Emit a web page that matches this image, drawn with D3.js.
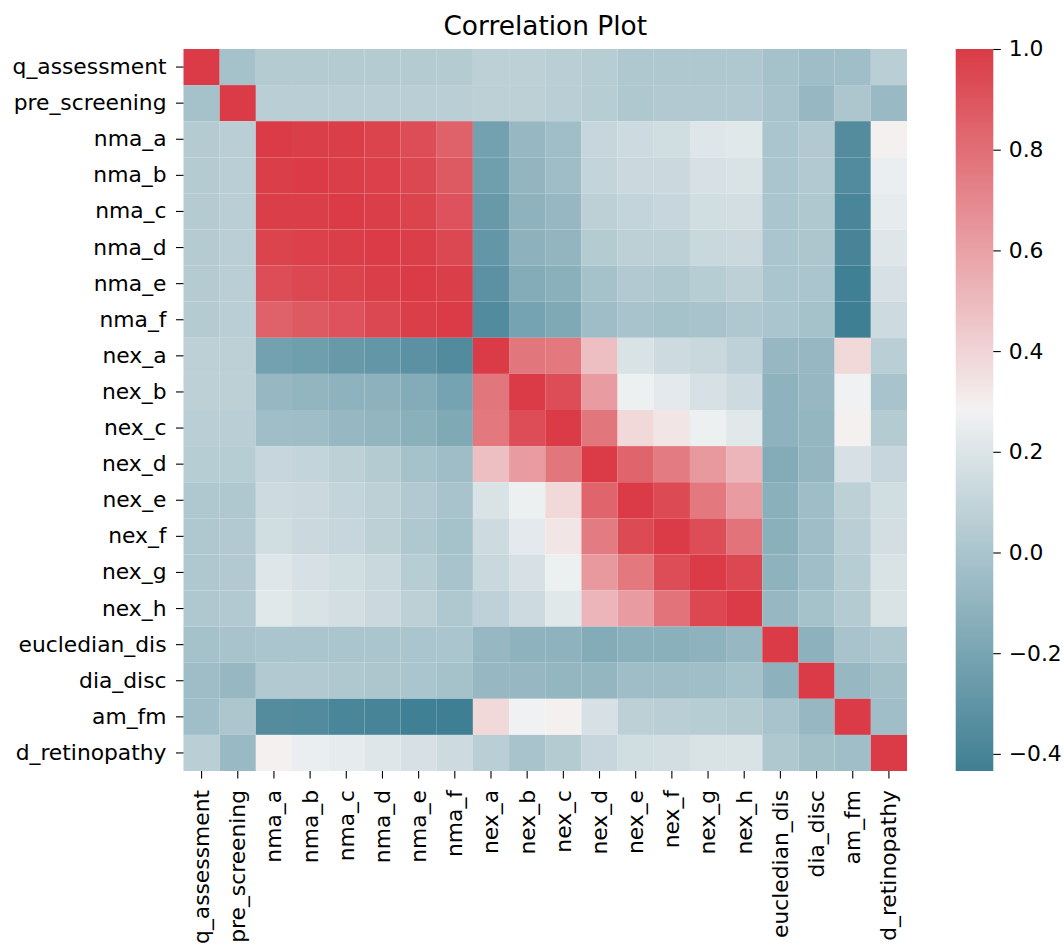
<!DOCTYPE html>
<html>
<head>
<meta charset="utf-8">
<script src="https://cdn.jsdelivr.net/npm/d3@7"></script>
<style>
  html, body { margin: 0; padding: 0; background: #ffffff; }
  svg { display: block; }
  text { font-family: "DejaVu Sans", sans-serif; fill: #000; }
</style>
</head>
<body>
<svg id="chart" width="1064" height="948"></svg>
<script>
// ---- data ----
const variables = [
  "q_assessment", "pre_screening", "nma_a", "nma_b", "nma_c", "nma_d", "nma_e", "nma_f",
  "nex_a", "nex_b", "nex_c", "nex_d", "nex_e", "nex_f", "nex_g", "nex_h",
  "eucledian_dis", "dia_disc", "am_fm", "d_retinopathy"
];

const correlations = [
  [1, -0.02, 0.04, 0.04, 0.04, 0.04, 0.04, 0.04, 0.07, 0.07, 0.06, 0.05, 0.02, 0.02, 0.02, 0.02, -0.02, -0.05, -0.04, 0.06],
  [-0.02, 1, 0.06, 0.06, 0.06, 0.06, 0.06, 0.06, 0.07, 0.07, 0.06, 0.05, 0.02, 0.03, 0.03, 0.03, -0.01, -0.08, 0.01, -0.07],
  [0.04, 0.06, 1, 0.99, 0.99, 0.97, 0.93, 0.85, -0.22, -0.08, -0.04, 0.11, 0.14, 0.15, 0.21, 0.22, 0.00, 0.03, -0.35, 0.29],
  [0.04, 0.06, 0.99, 1, 0.99, 0.98, 0.95, 0.88, -0.24, -0.10, -0.05, 0.10, 0.13, 0.13, 0.18, 0.19, 0.00, 0.03, -0.36, 0.26],
  [0.04, 0.06, 0.99, 0.99, 1, 0.99, 0.97, 0.91, -0.27, -0.11, -0.08, 0.07, 0.10, 0.11, 0.15, 0.16, 0.00, 0.02, -0.39, 0.24],
  [0.04, 0.06, 0.97, 0.98, 0.99, 1, 0.99, 0.95, -0.29, -0.12, -0.10, 0.04, 0.07, 0.07, 0.12, 0.13, 0.00, 0.01, -0.40, 0.21],
  [0.04, 0.06, 0.93, 0.95, 0.97, 0.99, 1, 0.99, -0.32, -0.16, -0.13, -0.02, 0.03, 0.02, 0.05, 0.07, 0.00, 0.00, -0.43, 0.18],
  [0.04, 0.06, 0.85, 0.88, 0.91, 0.95, 0.99, 1, -0.36, -0.21, -0.17, -0.05, -0.01, -0.02, -0.01, 0.02, 0.00, -0.02, -0.434, 0.14],
  [0.07, 0.07, -0.22, -0.24, -0.27, -0.29, -0.32, -0.36, 1, 0.77, 0.76, 0.48, 0.19, 0.14, 0.12, 0.08, -0.08, -0.08, 0.38, 0.06],
  [0.07, 0.07, -0.08, -0.10, -0.11, -0.12, -0.16, -0.21, 0.77, 1, 0.93, 0.62, 0.27, 0.23, 0.18, 0.14, -0.11, -0.08, 0.28, -0.01],
  [0.06, 0.06, -0.04, -0.05, -0.08, -0.10, -0.13, -0.17, 0.76, 0.93, 1, 0.77, 0.38, 0.33, 0.27, 0.22, -0.11, -0.09, 0.29, 0.04],
  [0.05, 0.05, 0.11, 0.10, 0.07, 0.04, -0.02, -0.05, 0.48, 0.62, 0.77, 1, 0.84, 0.75, 0.63, 0.52, -0.16, -0.09, 0.18, 0.11],
  [0.02, 0.02, 0.14, 0.13, 0.10, 0.07, 0.03, -0.01, 0.19, 0.27, 0.38, 0.84, 1, 0.94, 0.76, 0.62, -0.13, -0.05, 0.07, 0.15],
  [0.02, 0.03, 0.15, 0.13, 0.11, 0.07, 0.02, -0.02, 0.14, 0.23, 0.33, 0.75, 0.94, 1, 0.93, 0.78, -0.13, -0.05, 0.06, 0.16],
  [0.02, 0.03, 0.21, 0.18, 0.15, 0.12, 0.05, -0.01, 0.12, 0.18, 0.27, 0.63, 0.76, 0.93, 1, 0.95, -0.11, -0.04, 0.05, 0.19],
  [0.02, 0.03, 0.22, 0.19, 0.16, 0.13, 0.07, 0.02, 0.08, 0.14, 0.22, 0.52, 0.62, 0.78, 0.95, 1, -0.08, -0.02, 0.04, 0.19],
  [-0.02, -0.01, 0.00, 0.00, 0.00, 0.00, 0.00, 0.00, -0.08, -0.11, -0.11, -0.16, -0.13, -0.13, -0.11, -0.08, 1, -0.12, -0.01, 0.02],
  [-0.05, -0.08, 0.03, 0.03, 0.02, 0.01, 0.00, -0.02, -0.08, -0.08, -0.09, -0.09, -0.05, -0.05, -0.04, -0.02, -0.12, 1, -0.08, -0.03],
  [-0.04, 0.01, -0.35, -0.36, -0.39, -0.40, -0.43, -0.434, 0.38, 0.28, 0.29, 0.18, 0.07, 0.06, 0.05, 0.04, -0.01, -0.08, 1, -0.04],
  [0.06, -0.07, 0.29, 0.26, 0.24, 0.21, 0.18, 0.14, 0.06, -0.01, 0.04, 0.11, 0.15, 0.16, 0.19, 0.19, 0.02, -0.03, -0.04, 1]
];

const colorbarTicks = [-0.4, -0.2, 0.0, 0.2, 0.4, 0.6, 0.8, 1.0];
const paletteColors = ["#3f7f93", "#eff1f2", "#f2f2f2", "#f4f0f0", "#da3b46"];
const paletteStops = [0, 0.496, 0.5, 0.504, 1];
const titleText = "Correlation Plot";

// ---- layout ----
const svg = d3.select("#chart");
const heat = { left: 183.5, right: 907, top: 49, bottom: 771 };
const cbar = { left: 955.7, right: 993.3 };
const tickFont = 21.8;
const tickLen = 7.5;

const cells = [];
correlations.forEach((row, i) => row.forEach((v, j) => cells.push({ r: variables[i], c: variables[j], v })));

const vmin = d3.min(cells, d => d.v);
const vmax = d3.max(cells, d => d.v);

const x = d3.scaleBand().domain(variables).range([heat.left, heat.right]).padding(0);
const y = d3.scaleBand().domain(variables).range([heat.top, heat.bottom]).padding(0);

const tScale = d3.scaleLinear().domain([vmin, vmax]).range([0, 1]).clamp(true);
const palette = d3.scaleLinear().domain(paletteStops).range(paletteColors).interpolate(d3.interpolateRgb);
const color = v => palette(tScale(v));

// cells
svg.append("g")
  .selectAll("rect")
  .data(cells)
  .join("rect")
  .attr("x", d => x(d.c))
  .attr("y", d => y(d.r))
  .attr("width", x.bandwidth())
  .attr("height", y.bandwidth())
  .attr("fill", d => color(d.v));

// y axis
const yAxis = svg.append("g")
  .attr("transform", `translate(${heat.left},0)`)
  .call(d3.axisLeft(y).tickSize(tickLen).tickPadding(9.5));
yAxis.select(".domain").remove();
yAxis.selectAll(".tick line").attr("stroke", "#000").attr("stroke-width", 1.1);
yAxis.selectAll(".tick text")
  .style("font-size", tickFont + "px")
  .style("font-family", "DejaVu Sans")
  .attr("fill", "#000");

// x axis
const xAxis = svg.append("g")
  .attr("transform", `translate(0,${heat.bottom})`)
  .call(d3.axisBottom(x).tickSize(tickLen).tickPadding(7));
xAxis.select(".domain").remove();
xAxis.selectAll(".tick line").attr("stroke", "#000").attr("stroke-width", 1.1);
xAxis.selectAll(".tick text")
  .style("font-size", tickFont + "px")
  .style("font-family", "DejaVu Sans")
  .attr("fill", "#000")
  .attr("transform", "rotate(-90)")
  .attr("text-anchor", "end")
  .attr("x", -19)
  .attr("y", 0)
  .attr("dy", "0.34em");

// colorbar
const cy = d3.scaleLinear().domain([vmin, vmax]).range([heat.bottom, heat.top]);
const defs = svg.append("defs");
const grad = defs.append("linearGradient")
  .attr("id", "cbgrad")
  .attr("x1", 0).attr("y1", 1).attr("x2", 0).attr("y2", 0);
grad.selectAll("stop")
  .data(d3.range(0, 1.0001, 1 / 128))
  .join("stop")
  .attr("offset", d => d)
  .attr("stop-color", d => palette(d));
svg.append("rect")
  .attr("x", cbar.left)
  .attr("y", heat.top)
  .attr("width", cbar.right - cbar.left)
  .attr("height", heat.bottom - heat.top)
  .attr("fill", "url(#cbgrad)");

const cAxis = svg.append("g")
  .attr("transform", `translate(${cbar.right},0)`)
  .call(d3.axisRight(cy).tickValues(colorbarTicks).tickFormat(d3.format(".1f")).tickSize(tickLen).tickPadding(8));
cAxis.select(".domain").remove();
cAxis.selectAll(".tick line").attr("stroke", "#000").attr("stroke-width", 1.1);
cAxis.selectAll(".tick text")
  .style("font-size", tickFont + "px")
  .style("font-family", "DejaVu Sans")
  .attr("fill", "#000");

// title
svg.append("text")
  .attr("x", (heat.left + heat.right) / 2)
  .attr("y", 35)
  .attr("text-anchor", "middle")
  .style("font-size", "26.4px")
  .style("font-family", "DejaVu Sans")
  .text(titleText);
</script>
</body>
</html>
